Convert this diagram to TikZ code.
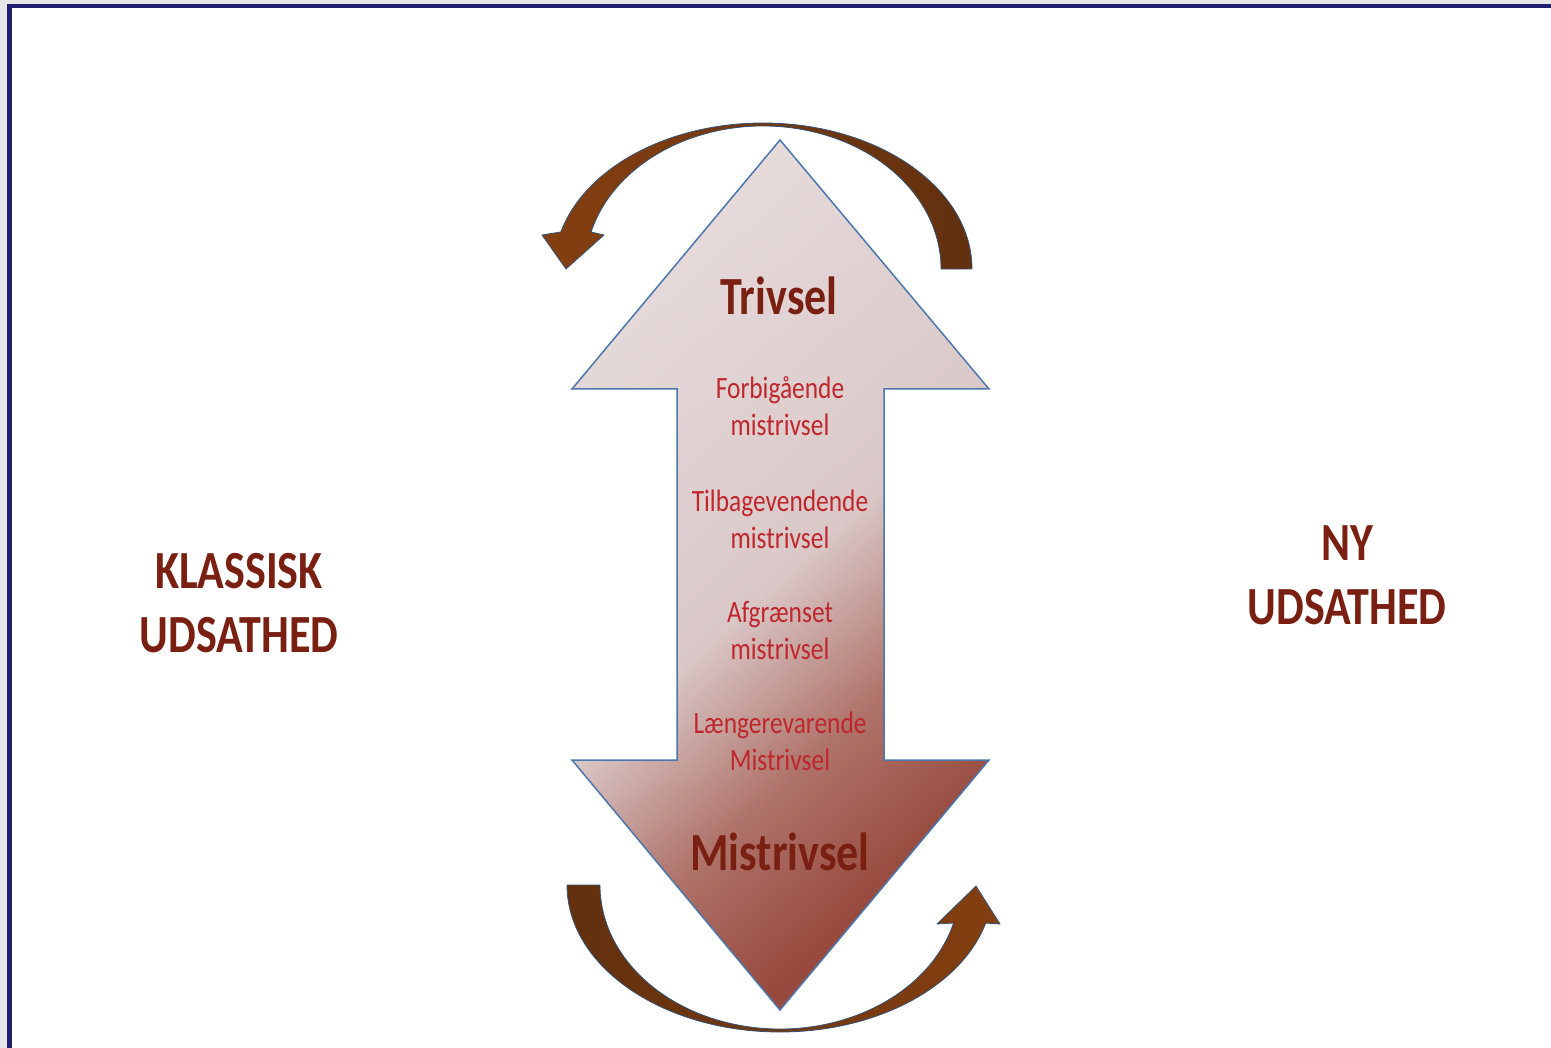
\documentclass[tikz,border=0pt]{standalone}
\usepackage{fontspec}
\newfontfamily\cf[FakeStretch=0.82]{Carlito}
\definecolor{navy}{HTML}{1F1F6B}
\definecolor{bggray}{HTML}{E6E6E8}
\definecolor{labdark}{RGB}{122,32,18}
\definecolor{labred}{RGB}{192,39,45}
\definecolor{agdark}{RGB}{152,74,62}
\definecolor{agmid}{RGB}{175,115,106}
\definecolor{aglight}{RGB}{218,200,200}
\definecolor{agtop}{RGB}{230,218,219}
\definecolor{outline}{HTML}{4A77AD}
\definecolor{brhead}{RGB}{132,63,16}
\definecolor{brtail}{RGB}{98,48,14}
\pgfdeclareverticalshading{arrowgrad}{100bp}{color(0bp)=(agdark); color(27bp)=(agdark); color(38bp)=(agmid); color(50bp)=(aglight); color(75bp)=(agtop); color(100bp)=(agtop)}
\tikzset{
  bigtxt/.style={font=\cf\bfseries\fontsize{53.7}{64}\selectfont, text=labdark, align=center, inner sep=0pt},
  smalltxt/.style={font=\cf\fontsize{31}{37}\selectfont, text=labred, align=center, inner sep=0pt},
  bigarrow/.style={shading=arrowgrad, shading angle=42, draw=outline, line width=1.5pt, line join=miter},
  curvearrow/.style={draw=outline!70!black, line width=0.8pt, line join=round},
}
\begin{document}
\begin{tikzpicture}[x=1pt,y=1pt]
\useasboundingbox (0,0) rectangle (1551,-1048);
\clip (0,0) rectangle (1551,-1048);
\fill[bggray] (0,0) rectangle (1551,-1048);
\filldraw[fill=white, draw=navy, line width=4.3pt] (9.5,-6.2) rectangle (1600,-1100);
% double arrow
\shade[bigarrow] (780,-140) -- (989,-389) -- (884,-389) -- (884,-760) -- (989,-760) -- (780,-1010) -- (572,-760) -- (677,-760) -- (677,-389) -- (572,-389) -- cycle;
% top curved arrow
\shade[curvearrow, left color=brhead, right color=brtail]
  (972,-269) arc[start angle=0, end angle=165.3, x radius=209pt, y radius=146pt]
  -- (542,-235) -- (566,-269) -- (604,-235) -- (591.1,-232)
  arc[start angle=165, end angle=0, x radius=178pt, y radius=143pt] -- cycle;
% bottom curved arrow
\shade[curvearrow, left color=brtail, right color=brhead]
  (567,-885) arc[start angle=180, end angle=345, x radius=213pt, y radius=147pt]
  -- (1000,-924) -- (976,-886) -- (937,-924) -- (953.6,-923)
  arc[start angle=344.7, end angle=180, x radius=180pt, y radius=144pt] -- cycle;
% labels
\node[bigtxt, anchor=base] (trivsel) at (779,-315) {Trivsel};
\node[bigtxt, anchor=base] (mistrivsel) at (780,-870) {Mistrivsel};
\node[smalltxt, anchor=base] (forbi) at (780,-436) {Forbigående\\mistrivsel};
\node[smalltxt, anchor=base] (tilbage) at (780,-548) {Tilbagevendende\\mistrivsel};
\node[smalltxt, anchor=base] (afgr) at (780,-659) {Afgrænset\\mistrivsel};
\node[smalltxt, anchor=base] (laenger) at (780,-770) {Længerevarende\\Mistrivsel};
\node[bigtxt, anchor=base] (klassisk) at (239,-652) {KLASSISK\\UDSATHED};
\node[bigtxt, anchor=base] (ny) at (1347,-624) {NY\\UDSATHED};
\end{tikzpicture}
\end{document}
